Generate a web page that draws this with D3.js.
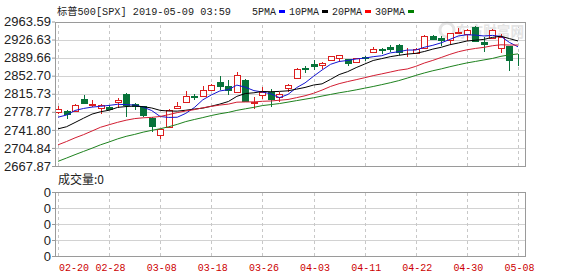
<!DOCTYPE html>
<html>
<head>
<meta charset="utf-8">
<script src="https://cdn.jsdelivr.net/npm/d3@7"></script>
<style>
  html, body { margin: 0; padding: 0; background: #fff; }
  svg { display: block; }
</style>
</head>
<body>
<div id="chart"></div>
<script>
const width = 578;
const height = 276;

// trading days shown (2019)
const dates = ['02-20','02-21','02-22','02-25','02-26','02-27','02-28',
  '03-01','03-04','03-05','03-06','03-07','03-08','03-11','03-12','03-13','03-14','03-15',
  '03-18','03-19','03-20','03-21','03-22','03-25','03-26','03-27','03-28','03-29',
  '04-01','04-02','04-03','04-04','04-05','04-08','04-09','04-10','04-11','04-12',
  '04-15','04-16','04-17','04-18','04-22','04-23','04-24','04-25','04-26','04-29','04-30',
  '05-01','05-02','05-03','05-06','05-07','05-08'];

const open = [2779.05,2780.67,2780.67,2804.35,2792.36,2787.50,2788.11,
  2798.22,2814.37,2794.41,2790.27,2766.53,2730.79,2747.61,2787.34,2799.78,2810.38,2810.79,
  2822.61,2840.76,2831.34,2819.72,2844.52,2796.01,2812.66,2819.72,2809.40,2828.27,
  2848.63,2868.24,2876.09,2873.99,2884.16,2888.46,2886.58,2881.37,2891.92,2900.86,
  2908.32,2912.26,2916.04,2904.81,2898.78,2909.99,2934.00,2928.99,2925.81,2940.58,2937.14,
  2952.33,2922.16,2929.21,2908.89,2913.03,2879.61];

const high = [2789.88,2781.58,2794.20,2813.49,2803.12,2795.76,2793.73,
  2808.02,2816.88,2796.44,2790.27,2768.98,2744.13,2784.00,2798.32,2821.24,2815.00,2830.73,
  2835.41,2852.42,2843.54,2860.31,2846.16,2809.79,2829.87,2825.56,2819.71,2836.03,
  2869.40,2872.90,2885.25,2881.28,2893.24,2895.95,2886.88,2889.71,2893.42,2910.54,
  2909.60,2916.06,2918.00,2908.40,2909.51,2936.31,2936.83,2933.10,2939.88,2949.52,2948.22,
  2954.13,2931.68,2947.85,2937.32,2913.03,2897.96];

const low = [2774.06,2764.55,2779.11,2794.99,2789.47,2775.13,2782.51,
  2787.38,2767.66,2782.97,2768.69,2738.16,2722.27,2747.61,2786.73,2799.78,2803.46,2810.79,
  2821.99,2823.27,2812.43,2817.38,2800.47,2785.02,2803.99,2787.72,2798.77,2819.23,
  2848.63,2858.75,2865.17,2867.14,2882.99,2880.78,2873.33,2879.13,2881.99,2898.37,
  2896.48,2900.71,2895.45,2891.90,2896.35,2908.53,2926.05,2912.84,2917.56,2939.35,2924.11,
  2923.36,2900.50,2929.21,2898.21,2862.60,2873.28];

const close = [2784.70,2774.88,2792.67,2796.11,2793.90,2792.38,2784.49,
  2803.69,2792.81,2789.65,2771.45,2748.93,2743.07,2783.30,2791.52,2810.92,2808.48,2822.48,
  2832.94,2832.57,2824.23,2854.88,2800.71,2798.36,2818.46,2805.37,2815.44,2834.40,
  2867.19,2867.24,2873.40,2879.39,2892.74,2895.77,2878.20,2888.21,2888.32,2907.41,
  2905.58,2907.06,2900.45,2905.03,2907.97,2933.68,2927.25,2926.17,2939.88,2943.03,2945.83,
  2923.73,2917.52,2945.64,2932.47,2884.05,2879.42];

// closes before 02-20, needed for the moving averages (01-08 .. 02-19)
const priorClose = [2574.41,2584.96,2596.64,2596.26,2582.61,2610.30,2616.10,2635.96,2670.71,2632.90,
  2638.70,2642.33,2664.76,2643.85,2640.00,2681.05,2704.10,2706.53,2724.87,2737.70,
  2731.61,2706.05,2707.88,2709.80,2744.73,2753.03,2745.73,2775.60,2779.76];

const maPeriods = [5, 10, 20, 30];
const maNames = ['5PMA', '10PMA', '20PMA', '30PMA'];
const maColors = ['#1414d2', '#000000', '#d21e32', '#1e821e'];
const legendColors = ['#0000ff', '#000000', '#ff0000', '#008000'];

const priceTicks = ['2667.87','2704.84','2741.80','2778.77','2815.73','2852.70','2889.66','2926.63','2963.59'];
const volumeTicks = ['0','0','0','0','0'];
const dateTicks = ['02-20','02-28','03-08','03-18','03-26','04-03','04-11','04-22','04-30','05-08'];

const title = '标普500[SPX] 2019-05-09 03:59';
const volumeTitle = '成交量:0';

const upColor = '#dc1e1e';
const downColor = '#08733a';

const main = { left: 55, right: 525, top: 21.5, bottom: 166 };
const vol = { left: 55, right: 525, top: 192, bottom: 256 };

function drawChart() {
  const svg = d3.select('#chart')
    .append('svg')
    .attr('width', width)
    .attr('height', height);

  const xScale = d3.scalePoint()
    .domain(dates)
    .range([58, 518]);

  const yScale = d3.scaleLinear()
    .domain([+priceTicks[0], +priceTicks[priceTicks.length - 1]])
    .range([main.bottom, main.top]);

  const vScale = d3.scaleLinear()
    .domain([0, volumeTicks.length - 1])
    .range([vol.bottom, vol.top]);

  // horizontal gridlines
  svg.append('g')
    .attr('transform', `translate(${main.left},0)`)
    .call(d3.axisLeft(yScale).tickValues(priceTicks.map(Number)).tickFormat('').tickSize(-(main.right - main.left)).tickSizeOuter(0))
    .call(g => g.select('.domain').remove())
    .call(g => g.selectAll('line').attr('stroke', '#d2d2d2').attr('shape-rendering', 'crispEdges'));

  svg.append('g')
    .attr('transform', `translate(${vol.left},0)`)
    .call(d3.axisLeft(vScale).ticks(volumeTicks.length - 1).tickFormat('').tickSize(-(vol.right - vol.left)).tickSizeOuter(0))
    .call(g => g.select('.domain').remove())
    .call(g => g.selectAll('line').attr('stroke', '#d2d2d2').attr('shape-rendering', 'crispEdges'));

  // vertical dashed gridlines in both panels
  [main, vol].forEach(p => {
    svg.append('g')
      .attr('transform', `translate(0,${p.bottom})`)
      .call(d3.axisBottom(xScale).tickValues(dateTicks).tickFormat('').tickSize(-(p.bottom - p.top)).tickSizeOuter(0))
      .call(g => g.select('.domain').remove())
      .call(g => g.selectAll('line')
        .attr('stroke', '#c8c8c8')
        .attr('stroke-dasharray', '3,3')
        .attr('shape-rendering', 'crispEdges'));
  });

  // watermark
  svg.append('text')
    .attr('x', 456)
    .attr('y', 37)
    .attr('font-family', 'Noto Sans CJK SC')
    .attr('font-weight', 'bold')
    .attr('font-size', 15)
    .attr('fill', '#e4e4e4')
    .attr('textLength', 68)
    .attr('lengthAdjust', 'spacingAndGlyphs')
    .text('东方财富网');
  svg.append('circle')
    .attr('cx', 447).attr('cy', 30).attr('r', 7)
    .attr('fill', 'none').attr('stroke', '#e4e4e4').attr('stroke-width', 3);

  // candles
  const candles = svg.append('g').attr('class', 'candles').attr('shape-rendering', 'crispEdges');
  const idx = d3.range(dates.length);
  const colorOf = i => (close[i] >= open[i] ? upColor : downColor);

  candles.selectAll('line.wick')
    .data(idx)
    .join('line')
    .attr('class', 'wick')
    .attr('x1', i => Math.round(xScale(dates[i])) + 0.5)
    .attr('x2', i => Math.round(xScale(dates[i])) + 0.5)
    .attr('y1', i => yScale(high[i]))
    .attr('y2', i => yScale(low[i]))
    .attr('stroke', colorOf);

  candles.selectAll('rect.body')
    .data(idx)
    .join('rect')
    .attr('class', 'body')
    .attr('x', i => Math.round(xScale(dates[i])) - 2.5)
    .attr('width', 6)
    .attr('y', i => Math.round(yScale(Math.max(open[i], close[i]))) + 0.5)
    .attr('height', i => Math.max(0, Math.round(yScale(Math.min(open[i], close[i]))) - Math.round(yScale(Math.max(open[i], close[i])))))
    .attr('fill', i => (close[i] >= open[i] ? '#fff' : downColor))
    .attr('stroke', colorOf);

  // moving averages
  const allClose = priorClose.concat(close);
  const offset = priorClose.length;
  const line = d3.line()
    .x(d => xScale(d[0]))
    .y(d => yScale(d[1]));

  maPeriods.forEach((n, k) => {
    const pts = dates.map((d, i) => [d, d3.mean(allClose.slice(offset + i - n + 1, offset + i + 1))]);
    svg.append('path')
      .datum(pts)
      .attr('fill', 'none')
      .attr('stroke', maColors[k])
      .attr('stroke-width', 1)
      .attr('d', line);
  });

  // borders
  [main, vol].forEach(p => {
    svg.append('rect')
      .attr('x', p.left + 0.5)
      .attr('y', Math.round(p.top) + 0.5)
      .attr('width', p.right - p.left)
      .attr('height', Math.round(p.bottom) - Math.round(p.top))
      .attr('fill', 'none')
      .attr('stroke', '#9a9a9a');
  });

  // price axis labels
  const yAxis = svg.append('g')
    .attr('transform', `translate(${main.left},0)`)
    .call(d3.axisLeft(yScale).tickValues(priceTicks.map(Number)).tickFormat((d, i) => priceTicks[i]).tickSize(3).tickPadding(1).tickSizeOuter(0));
  yAxis.select('.domain').remove();
  yAxis.selectAll('line').attr('stroke', '#9a9a9a');
  yAxis.selectAll('text')
    .attr('font-family', 'Liberation Sans, Arial, sans-serif')
    .attr('font-size', 13)
    .attr('fill', '#222');

  const vAxis = svg.append('g')
    .attr('transform', `translate(${vol.left},0)`)
    .call(d3.axisLeft(vScale).ticks(volumeTicks.length - 1).tickFormat((d, i) => volumeTicks[i]).tickSize(3).tickPadding(1).tickSizeOuter(0));
  vAxis.select('.domain').remove();
  vAxis.selectAll('line').attr('stroke', '#9a9a9a');
  vAxis.selectAll('text')
    .attr('font-family', 'Liberation Sans, Arial, sans-serif')
    .attr('font-size', 13)
    .attr('fill', '#222');

  // date labels
  svg.append('g')
    .selectAll('text')
    .data(dateTicks)
    .join('text')
    .attr('x', (d, i) => (i === 0 ? xScale(d) + 1 : xScale(d) + 1.5))
    .attr('y', 271)
    .attr('text-anchor', (d, i) => (i === 0 ? 'start' : 'middle'))
    .attr('font-family', 'Liberation Mono, monospace')
    .attr('font-size', 11)
    .attr('textLength', 30)
    .attr('lengthAdjust', 'spacingAndGlyphs')
    .attr('fill', '#cc0000')
    .text(d => d);

  // title
  svg.append('text')
    .attr('x', 57)
    .attr('y', 15)
    .attr('font-family', 'Liberation Mono, Noto Sans CJK SC, monospace')
    .attr('font-size', 10.5)
    .attr('textLength', 174)
    .attr('lengthAdjust', 'spacingAndGlyphs')
    .attr('fill', '#222')
    .text(title);

  // legend
  const legendX = [252, 289, 332, 375];
  const legend = svg.append('g');
  maNames.forEach((name, k) => {
    const w = name.length * 6;
    legend.append('text')
      .attr('x', legendX[k])
      .attr('y', 15)
      .attr('font-family', 'Liberation Mono, monospace')
      .attr('font-size', 10.5)
      .attr('textLength', w)
      .attr('lengthAdjust', 'spacingAndGlyphs')
      .attr('fill', '#222')
      .text(name);
    legend.append('rect')
      .attr('x', legendX[k] + w + 3)
      .attr('y', 10)
      .attr('width', 6)
      .attr('height', 3)
      .attr('fill', legendColors[k]);
  });

  svg.append('text')
    .attr('x', 58)
    .attr('y', 184)
    .attr('font-family', 'Noto Sans CJK SC, sans-serif')
    .attr('font-size', 12)
    .attr('fill', '#222')
    .text(volumeTitle);
}

document.addEventListener('DOMContentLoaded', drawChart);
</script>
</body>
</html>
